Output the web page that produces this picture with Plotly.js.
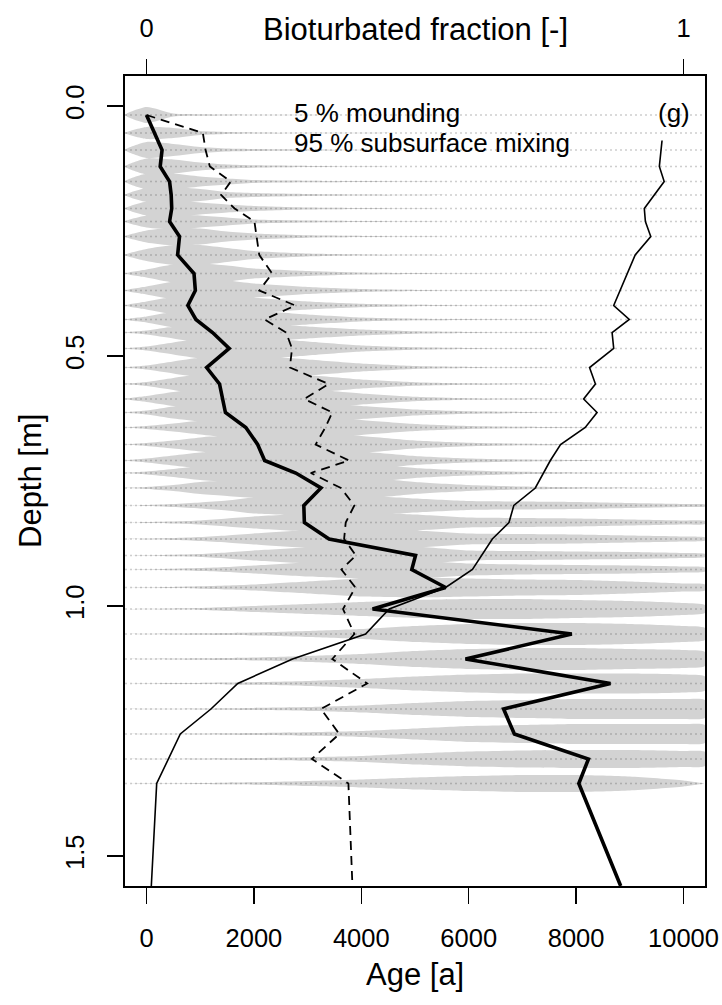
<!DOCTYPE html>
<html><head><meta charset="utf-8">
<script src="https://cdn.plot.ly/plotly-3.0.1.min.js"></script>
<style>html,body{margin:0;padding:0;background:#fff}</style>
</head><body><div id="chart" style="width:722px;height:1005px"></div>
<script>
// ---- data ----
const layerDepth = [0.018,0.054,0.088,0.121,0.151,0.178,0.205,0.231,0.261,0.298,0.335,0.369,0.399,0.427,0.453,0.485,0.523,0.556,0.586,0.613,0.643,0.677,0.709,0.734,0.764,0.799,0.833,0.866,0.899,0.927,0.963,1.006,1.056,1.106,1.155,1.206,1.256,1.306,1.355];

// thick solid line (age)
const thickDepth = layerDepth.concat([1.56]);
const thickAge = [0,150,290,255,430,460,470,430,615,580,885,910,770,920,1230,1540,1120,1360,1420,1470,1850,2070,2200,2780,3250,2930,2940,3400,5010,4940,5570,4210,7920,5940,8640,6650,6850,8230,8050,8830];

// dashed line (age)
const dashDepth = layerDepth.concat([1.56]);
const dashAge = [0,1050,1100,1180,1570,1390,1640,2010,2050,2100,2340,2100,2770,2200,2600,2710,2670,3390,2940,3460,3330,3150,3770,3060,3620,3870,3710,3680,3900,3630,3890,3660,3870,3460,4110,3250,3590,3080,3760,3835];

// thin solid line (bioturbated fraction, top axis)
const fracDepth = [0.069,0.121,0.151,0.205,0.231,0.261,0.298,0.399,0.427,0.453,0.485,0.523,0.556,0.586,0.613,0.643,0.677,0.709,0.764,0.799,0.833,0.866,0.927,0.963,1.006,1.056,1.106,1.155,1.206,1.256,1.355,1.56];
const fracValue = [0.960,0.955,0.964,0.927,0.929,0.939,0.910,0.870,0.899,0.867,0.870,0.825,0.836,0.814,0.839,0.817,0.771,0.752,0.724,0.684,0.675,0.644,0.607,0.557,0.452,0.408,0.272,0.170,0.120,0.063,0.019,0.009];

// violin (age distribution) half-widths per layer, in mm of depth, at these ages
const violinAgeKnots = [-400,0,500,1000,1500,2000,3000,4000,5000,6000,7000,8000,9000,10000,10400];
const violinHalfWidthMM = [
 [0,16,3,1.6,1,0.6,0.4,0,0,0,0,0,0,0,0],
 [0,12,10,4,2,1.2,0.6,0.4,0,0,0,0,0,0,0],
 [0,16,12,6,3,2,1,0.4,0,0,0,0,0,0,0],
 [0,16,14,8,4,2.4,1.2,0.6,0,0,0,0,0,0,0],
 [0,16,16,10,6,3,1.6,0.8,0.4,0,0,0,0,0,0],
 [0,14,16,12,6,4,2,1,0.4,0,0,0,0,0,0],
 [0,14,16,12,8,5,2,1,0.4,0,0,0,0,0,0],
 [0,12,16,12,8,4,2,1,0.4,0,0,0,0,0,0],
 [0,12,18,16,10,6,2.4,1.2,0.6,0,0,0,0,0,0],
 [0,12,20,20,14,8,3,1.2,0.6,0,0,0,0,0,0],
 [0,8,18,20,16,10,5,2,0.8,0.4,0,0,0,0,0],
 [0,8,18,22,20,14,7,3,1.2,0.6,0.4,0,0,0,0],
 [0,8,18,22,22,16,8,3.5,1.4,0.6,0.4,0,0,0,0],
 [0,6,16,22,22,18,10,4,1.6,0.8,0.4,0,0,0,0],
 [0,4,12,20,24,20,12,6,2.4,1,0.5,0,0,0,0],
 [0,4,12,20,24,22,14,6,2.4,1,0.5,0,0,0,0],
 [0,4,12,20,24,24,16,8,3,1.2,0.6,0,0,0,0],
 [0,4,12,20,24,24,18,9,3.6,1.4,0.6,0,0,0,0],
 [0,6,14,20,24,24,20,11,4.5,1.6,0.8,0,0,0,0],
 [0,4,12,18,22,24,22,13,6,2.4,1,0,0,0,0],
 [0,3,8,14,20,24,24,15,7,3,1.4,0.6,0,0,0],
 [0,3,8,14,20,24,24,17,8,3.6,1.6,0.8,0,0,0],
 [0,4,10,16,20,24,24,18,9,4,2,1,0,0,0],
 [0,3,8,14,18,22,24,20,10,5,2.5,1.2,0.5,0,0],
 [0,2,6,12,16,20,24,22,12,6,3,1.5,0.7,0,0],
 [0,1,3,6,10,16,20,20,14,9,8,7,5,3,2],
 [0,1,2,4,8,12,18,20,16,10,9,8,6,4,3],
 [0,1,2,4,7,11,18,20,17,11,10,9,7,5,3],
 [0,0.6,1.6,3,6,10,16,20,18,10,9,8,7,5,3],
 [0,0.6,1.6,3,5,8,14,18,18,12,10,9,8,6,4],
 [0,0.6,1.2,2.4,4,6,12,18,20,18,16,15,12,8,6],
 [0,0.6,1.2,2,4,6,10,14,18,20,20,18,16,12,8],
 [0,0.4,0.8,1.4,2,3,6,10,16,20,22,22,20,16,12],
 [0,0.4,0.8,1.4,2,3,6,10,16,20,22,22,20,18,14],
 [0,0.4,0.8,1.2,1.8,2.6,5,9,14,18,20,20,20,18,14],
 [0,0.4,0.6,1,1.6,2.2,4,7,12,16,18,20,20,20,18],
 [0,0.4,0.6,1,1.4,2,3.6,6,11,16,18,20,20,20,18],
 [0,0.4,0.6,1,1.4,2,3.6,6,11,15,17,18,18,16,14],
 [0,0.4,0.6,1,1.6,2.4,5,8,12,15,17,17,14,6,0]
];

const xTicks = [0,2000,4000,6000,8000,10000];
const yTicks = [0,0.5,1.0,1.5];
const yTickText = ['0.0','0.5','1.0','1.5'];
const topTicks = [0,1];

// ---- build traces ----
const FONT = 'Liberation Sans, Arial, sans-serif';
const vx = [], vy = [];
layerDepth.forEach((d, i) => {
  const w = violinHalfWidthMM[i];
  for (let k = 0; k < violinAgeKnots.length; k++) { vx.push(violinAgeKnots[k]); vy.push(d - w[k] / 1000); }
  for (let k = violinAgeKnots.length - 1; k >= 0; k--) { vx.push(violinAgeKnots[k]); vy.push(d + w[k] / 1000); }
  vx.push(null); vy.push(null);
});
const lx = [], ly = [];
layerDepth.forEach(d => { lx.push(-400, 10400, null); ly.push(d, d, null); });

const traces = [
  {x: vx, y: vy, mode: 'lines', fill: 'toself', fillcolor: '#d3d3d3',
   line: {width: 0, color: '#d3d3d3', shape: 'spline', smoothing: 0.6}, hoverinfo: 'skip', showlegend: false},
  {x: lx, y: ly, mode: 'lines', line: {width: 1.5, color: 'rgba(60,60,60,0.25)', dash: '2px,3px'},
   hoverinfo: 'skip', showlegend: false},
  {x: dashAge, y: dashDepth, mode: 'lines', line: {width: 1.8, color: '#000', dash: '9px,6px'}, showlegend: false},
  {x: fracValue, y: fracDepth, xaxis: 'x2', mode: 'lines', line: {width: 1.6, color: '#000'}, showlegend: false},
  {x: thickAge, y: thickDepth, mode: 'lines', line: {width: 3.6, color: '#000'}, showlegend: false}
];

const layout = {
  width: 722, height: 1005,
  margin: {l: 125, r: 17, t: 76, b: 119},
  paper_bgcolor: '#fff', plot_bgcolor: '#fff',
  font: {family: FONT, color: '#000', size: 25.5},
  showlegend: false,
  xaxis: {range: [-400, 10400], tickvals: xTicks, ticktext: xTicks.map(String),
    ticks: 'outside', ticklen: 16, tickwidth: 1.5, tickcolor: '#000',
    showline: true, mirror: true, linewidth: 2, linecolor: '#000',
    showgrid: false, zeroline: false, ticklabelstandoff: 12,
    tickfont: {family: FONT, size: 25.5, color: '#000'}},
  xaxis2: {range: [-0.04, 1.04], overlaying: 'x', side: 'top', anchor: 'y',
    tickvals: topTicks, ticktext: ['0','1'], ticks: 'outside', ticklen: 16, tickwidth: 1.5, tickcolor: '#000',
    showline: false, showgrid: false, zeroline: false, ticklabelstandoff: 12,
    tickfont: {family: FONT, size: 25.5, color: '#000'}},
  yaxis: {range: [1.56, -0.06], tickvals: yTicks, ticktext: yTickText, tickangle: -90,
    ticks: 'outside', ticklen: 16, tickwidth: 1.5, tickcolor: '#000',
    showline: true, mirror: true, linewidth: 2, linecolor: '#000',
    showgrid: false, zeroline: false, ticklabelstandoff: 13,
    tickfont: {family: FONT, size: 25.5, color: '#000'}},
  annotations: [
    {text: 'Age [a]', xref: 'paper', yref: 'paper', x: 0.5, y: 0, yanchor: 'middle', yshift: -88,
     showarrow: false, font: {family: FONT, size: 31, color: '#000'}},
    {text: 'Depth [m]', xref: 'paper', yref: 'paper', x: 0, y: 0.5, xanchor: 'center', xshift: -95, textangle: -90,
     showarrow: false, font: {family: FONT, size: 31, color: '#000'}},
    {text: 'Bioturbated fraction [-]', xref: 'paper', yref: 'paper', x: 0.5, y: 1, yanchor: 'middle', yshift: 47,
     showarrow: false, font: {family: FONT, size: 31, color: '#000'}},
    {text: '5 % mounding', x: 2714, y: 0.013, xanchor: 'left', yanchor: 'middle', showarrow: false,
     font: {family: FONT, size: 26, color: '#000'}},
    {text: '95 % subsurface mixing', x: 2714, y: 0.073, xanchor: 'left', yanchor: 'middle', showarrow: false,
     font: {family: FONT, size: 26, color: '#000'}},
    {text: '(g)', x: 10150, y: 0.013, xanchor: 'right', yanchor: 'middle', showarrow: false,
     font: {family: FONT, size: 26, color: '#000'}}
  ]
};

Plotly.newPlot('chart', traces, layout, {staticPlot: true, displayModeBar: false});
</script></body></html>
